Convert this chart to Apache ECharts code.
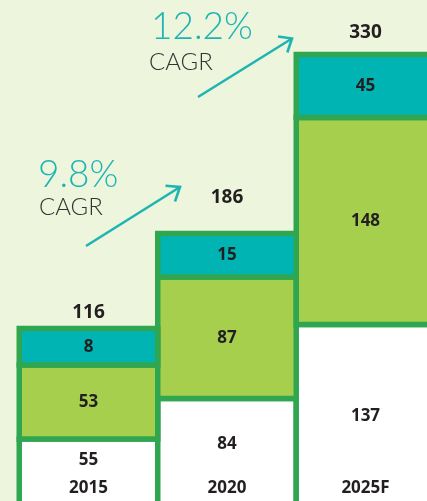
<!DOCTYPE html>
<html>
<head>
<meta charset="utf-8">
<script src="https://cdn.jsdelivr.net/npm/echarts@6/dist/echarts.min.js"></script>
<style>
  html, body { margin: 0; padding: 0; background: #eef5dd; }
  #main { width: 427px; height: 501px; }
</style>
</head>
<body>
<div id="main"></div>
<script>
// data
const years = ['2015', '2020', '2025F'];
const baseVals = [55, 84, 137];   // white block
const midVals = [53, 87, 148];    // light green block
const topVals = [8, 15, 45];      // teal block
const totals = [116, 186, 330];
// the teal blocks are not to scale in the picture, these are the heights they show
const topDrawn = [26, 31, 45];
const cagr = ['9.8%', '12.2%'];

const BORDER = '#2fa64f';
const INK = '#231f20';
const TEAL = '#1db5b2';

var chartDom = document.getElementById('main');
var myChart = echarts.init(chartDom);

// stacked starts
const midBase = baseVals.slice();
const topBase = baseVals.map((v, i) => v + midVals[i]);

// lift of the total label above each bar (px)
const totalLift = [15, 35, 21];

function block(name, vals, drawn, bases, fill, where) {
  return {
    type: 'custom',
    name: name,
    clip: false,
    data: years.map((y, i) => [i, bases[i], bases[i] + drawn[i], vals[i]]),
    renderItem: function (params, api) {
      const i = api.value(0);
      const lo = api.coord([i, api.value(1)]);
      const hi = api.coord([i, api.value(2)]);
      const w = api.size([1, 0])[0];
      let ly = (lo[1] + hi[1]) / 2;
      if (where === 'base') ly = hi[1] + 0.615 * (473 - hi[1]);
      const kids = [
        {
          type: 'rect',
          shape: { x: lo[0] - w / 2, y: hi[1], width: w, height: lo[1] - hi[1] },
          style: { fill: fill, stroke: BORDER, lineWidth: 5.5 }
        },
        {
          type: 'text',
          x: lo[0], y: ly,
          style: {
            text: String(api.value(3)),
            fill: INK, font: 'bold 17px "Open Sans"',
            align: 'center', verticalAlign: 'middle'
          }
        }
      ];
      if (where === 'top') {
        kids.push({
          type: 'text',
          x: lo[0], y: hi[1] - 2.75 - totalLift[i] + 2,
          style: {
            text: String(totals[i]),
            fill: INK, font: 'bold 19px "Open Sans"',
            align: 'center', verticalAlign: 'middle'
          }
        });
      }
      return { type: 'group', children: kids };
    }
  };
}

function arrow(x1, y1, x2, y2, a1, a2) {
  return {
    type: 'group',
    children: [
      { type: 'line', shape: { x1: x1, y1: y1, x2: x2, y2: y2 }, style: { stroke: TEAL, lineWidth: 2.6 } },
      { type: 'polyline', shape: { points: [a1, [x2, y2], a2] }, style: { stroke: TEAL, lineWidth: 2.6, fill: null } }
    ]
  };
}

var option = {
  backgroundColor: '#eef5dd',
  animation: false,
  grid: { left: 19.25, right: -7.75, top: 0, bottom: -15, outerBoundsMode: 'none', containLabel: false },
  xAxis: {
    type: 'category',
    data: years,
    z: 10,
    axisLine: { show: false },
    axisTick: { show: false },
    axisLabel: {
      inside: true,
      margin: 19,
      color: INK,
      fontFamily: 'Open Sans',
      fontWeight: 'bold',
      fontSize: 17
    }
  },
  yAxis: { type: 'value', min: 0, max: 369, show: false, splitLine: { show: false } },
  series: [
    block('base', baseVals, baseVals, years.map(() => 0), '#ffffff', 'base'),
    block('mid', midVals, midVals, midBase, '#a6cf4e', 'mid'),
    block('top', topVals, topDrawn, topBase, '#00b4b3', 'top')
  ],
  graphic: [
    { type: 'text', left: 38, top: 157, style: { text: cagr[0], fill: TEAL, font: '300 37px Lato' } },
    { type: 'text', left: 39, top: 195, style: { text: 'CAGR', fill: '#333333', font: '300 24px Lato' } },
    { type: 'text', left: 151, top: 9, style: { text: cagr[1], fill: TEAL, font: '300 37px Lato' } },
    { type: 'text', left: 149, top: 50, style: { text: 'CAGR', fill: '#333333', font: '300 24px Lato' } },
    arrow(86, 246, 180, 187, [165.5, 185.7], [175, 201.5]),
    arrow(198, 97, 292, 38.5, [278, 36.5], [287.3, 52.5])
  ]
};

option && myChart.setOption(option);
</script>
</body>
</html>
